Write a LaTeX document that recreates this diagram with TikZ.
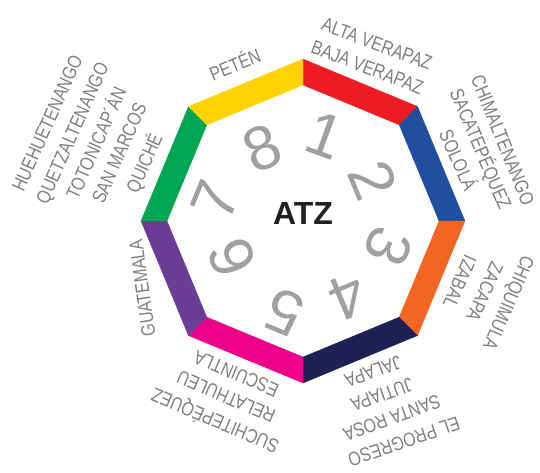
\documentclass[tikz,border=0pt]{standalone}
\usepackage{fontspec}
\setmainfont{Liberation Sans}
\newfontfamily\lblfont[FakeStretch=0.82]{Liberation Sans}
\usetikzlibrary{calc}
\definecolor{cyel}{HTML}{FFD200}
\definecolor{cred}{HTML}{ED1C24}
\definecolor{cblue}{HTML}{1F4F9E}
\definecolor{corange}{HTML}{F26522}
\definecolor{cnavy}{HTML}{1E2154}
\definecolor{cpink}{HTML}{EC008C}
\definecolor{cpurple}{HTML}{693C96}
\definecolor{cgreen}{HTML}{00A651}
\definecolor{numgray}{HTML}{A0A0A0}
\definecolor{labelgray}{HTML}{808080}
\definecolor{atzblack}{HTML}{231F20}
\begin{document}
\begin{tikzpicture}[x=1pt,y=1pt,
  lbl/.style={text=labelgray, font=\lblfont\fontsize{19.5}{23}\selectfont, inner sep=0pt, text height=14pt, text depth=0pt, anchor=center},
  num/.style={text=numgray, font=\fontsize{62}{70}\selectfont, inner sep=0pt, text height=44.4pt, text depth=0pt, anchor=center},
  title/.style={text=atzblack, font=\fontsize{32}{36}\selectfont\bfseries, inner sep=0pt, text height=22.9pt, text depth=0pt, anchor=center},
  band/.style={line join=miter, line width=0.3pt}]
\path[use as bounding box] (0,0) rectangle (540,-472);
\coordinate (C) at (303,-221);
\foreach \i in {0,...,7}{
  \coordinate (O\i) at ($(C)+({90-45*\i}:162)$);
  \coordinate (I\i) at ($(C)+({90-45*\i}:136)$);
}
\foreach \i/\j/\c in {0/1/cred,1/2/cblue,2/3/corange,3/4/cnavy,4/5/cpink,5/6/cpurple,6/7/cgreen,7/0/cyel}{
  \filldraw[band, fill=\c, draw=\c] (O\i) -- (O\j) -- (I\j) -- (I\i) -- cycle;
}
% centre
\node[title] (atz) at (303,-213.5) {ATZ};
% numbers
\node[num, rotate=-20]    (n1) at (325,-135) {1};
\node[num, rotate=-67.5]  (n2) at (374,-180) {2};
\node[num, rotate=-112.5] (n3) at (389,-247) {3};
\node[num, rotate=-157.5] (n4) at (348,-298) {4};
\node[num, rotate=157.5]  (n5) at (284,-313) {5};
\node[num, rotate=112.5]  (n6) at (231,-258) {6};
\node[num, rotate=67.5]   (n7) at (215,-200) {7};
\node[num, rotate=22.5]   (n8) at (262,-147) {8};
% labels
\node[lbl, rotate=22.5]   (peten) at (235,-65) {PETÉN};
\node[lbl, rotate=-20.5]  (alta) at (377,-43.5) {ALTA VERAPAZ};
\node[lbl, rotate=-21]    (baja) at (367.5,-67) {BAJA VERAPAZ};
\node[lbl, rotate=-68]    (chim) at (503,-140) {CHIMALTENANGO};
\node[lbl, rotate=-67]    (saca) at (481,-149) {SACATEPÉQUEZ};
\node[lbl, rotate=-66]    (solo) at (458,-160) {SOLOLÁ};
\node[lbl, rotate=-113.5] (chiq) at (509,-303) {CHIQUIMULA};
\node[lbl, rotate=-114.5] (zaca) at (485,-292) {ZACAPA};
\node[lbl, rotate=-114]   (izab) at (460,-282) {IZABAL};
\node[lbl, rotate=-160]   (jala) at (373,-372) {JALAPA};
\node[lbl, rotate=-160]   (juti) at (382,-395) {JUTIAPA};
\node[lbl, rotate=-160]   (sant) at (392,-418) {SANTA ROSA};
\node[lbl, rotate=-161]   (prog) at (404,-442) {EL PROGRESO};
\node[lbl, rotate=157]    (escu) at (236,-374) {ESCUINTLA};
\node[lbl, rotate=157]    (reta) at (226,-397) {RELATHULEU};
\node[lbl, rotate=157]    (such) at (215,-421) {SUCHITEPÉQUEZ};
\node[lbl, rotate=98]     (guat) at (142,-288) {GUATEMALA};
\node[lbl, rotate=66]     (hueh) at (47,-123) {HUEHUETENANGO};
\node[lbl, rotate=66]     (quet) at (72,-133) {QUETZALTENANGO};
\node[lbl, rotate=66]     (toto) at (96,-143) {TOTONICAP´ÁN};
\node[lbl, rotate=66]     (sanm) at (119,-153) {SAN MARCOS};
\node[lbl, rotate=66]     (quic) at (144,-163) {QUICHÉ};
\end{tikzpicture}
\end{document}
